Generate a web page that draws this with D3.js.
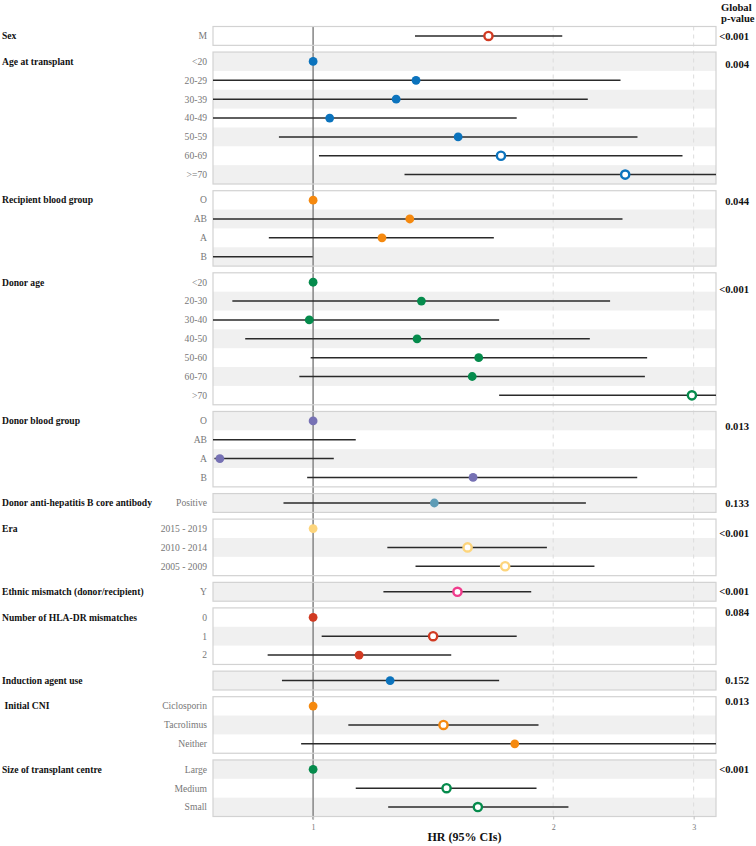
<!DOCTYPE html>
<html><head><meta charset="utf-8">
<script src="https://cdn.jsdelivr.net/npm/d3@7"></script>
<style>
body{margin:0;background:#fff}
svg{display:block}
text{font-family:"Liberation Serif","Times New Roman",serif}
</style>
</head><body>
<svg id="chart" width="756" height="846"></svg>
<script>
// ---------------- data ----------------
const groups = [
  "Sex", "Age at transplant", "Recipient blood group", "Donor age",
  "Donor blood group", "Donor anti-hepatitis B core antibody", "Era",
  "Ethnic mismatch (donor/recipient)", "Number of HLA-DR mismatches",
  "Induction agent use", " Initial CNI", "Size of transplant centre"
];
const levels = [
  ["M"],
  ["<20", "20-29", "30-39", "40-49", "50-59", "60-69", ">=70"],
  ["O", "AB", "A", "B"],
  ["<20", "20-30", "30-40", "40-50", "50-60", "60-70", ">70"],
  ["O", "AB", "A", "B"],
  ["Positive"],
  ["2015 - 2019", "2010 - 2014", "2005 - 2009"],
  ["Y"],
  ["0", "1", "2"],
  [""],
  ["Ciclosporin", "Tacrolimus", "Neither"],
  ["Large", "Medium", "Small"]
];
const hr = [
  [1.659],
  [1, 1.346, 1.271, 1.049, 1.520, 1.720, 2.462],
  [1, 1.322, 1.220, 0.55],
  [1, 1.367, 0.989, 1.350, 1.613, 1.583, 2.985],
  [1, 0.60, 0.764, 1.587],
  [1.419],
  [1, 1.562, 1.741],
  [1.517],
  [1, 1.414, 1.142],
  [1.249],
  [1, 1.457, 1.790],
  [1, 1.470, 1.609]
];
const lower = [
  [1.342],
  [null, 0.70, 0.65, 0.60, 0.906, 1.017, 1.302],
  [null, 0.65, 0.880, 0.30],
  [null, 0.792, 0.65, 0.822, 0.993, 0.961, 1.711],
  [null, 0.30, 0.752, 0.983],
  [0.918],
  [null, 1.239, 1.344],
  [1.225],
  [null, 1.025, 0.877],
  [0.914],
  [null, 1.107, 0.966],
  [null, 1.131, 1.242]
];
const upper = [
  [2.053],
  [null, 2.429, 2.210, 1.800, 2.551, 2.905, 3.60],
  [null, 2.443, 1.685, 0.999],
  [null, 2.357, 1.711, 2.223, 2.623, 2.606, 3.60],
  [null, 1.131, 1.0615, 2.549],
  [2.198],
  [null, 1.964, 2.253],
  [1.877],
  [null, 1.800, 1.490],
  [1.711],
  [null, 1.917, 3.60],
  [null, 1.906, 2.090]
];
const pValues = ["<0.001", "0.004", "0.044", "<0.001", "0.013", "0.133",
                 "<0.001", "<0.001", "0.084", "0.152", "0.013", "<0.001"];
const xTicks = [1, 2, 3];

// ---------------- styles / layout ----------------
const groupColors = ["#d13a22", "#0b73bd", "#f5890f", "#058b4c", "#7671b4",
                     "#5e9cb6", "#fdd57c", "#f03b8c", "#d13a22", "#0b73bd",
                     "#f5890f", "#058b4c"];
const pNudge = [0, 3, 1, 7, 5, 0, 5, 0, -5, 0, -5, 0];
const L = 213, R = 716, TOP = 26.5, BOTTOM = 816.5;
const GAP = 0.355; // gap between panels, in row units

const svg = d3.select("#chart");

const totalRows = d3.sum(levels, d => d.length);
const totalSlots = totalRows + GAP * (groups.length - 1);
const y = d3.scaleLinear().domain([0, totalSlots]).range([TOP, BOTTOM]);
const x = d3.scaleLog().domain([0.749, 3.2]).range([L, R]);

// flatten rows
const rows = [];
const panels = [];
let cum = 0;
groups.forEach((g, gi) => {
  const start = cum + gi * GAP;
  panels.push({g, gi, start, n: levels[gi].length});
  levels[gi].forEach((lab, li) => {
    rows.push({gi, li, idx: cum + li, slot: start + li, label: lab,
      est: hr[gi][li], lo: lower[gi][li], hi: upper[gi][li]});
  });
  cum += levels[gi].length;
});

svg.append("defs").append("clipPath").attr("id", "plotclip")
  .append("rect").attr("x", L).attr("y", 0).attr("width", R - L).attr("height", 846);

// panel backgrounds
svg.append("g").selectAll("rect").data(panels).join("rect")
  .attr("x", L).attr("width", R - L)
  .attr("y", d => y(d.start)).attr("height", d => y(d.start + d.n) - y(d.start))
  .attr("fill", "#fff");

// stripes
svg.append("g").selectAll("rect").data(rows.filter(r => r.idx % 2 === 1)).join("rect")
  .attr("x", L).attr("width", R - L)
  .attr("y", d => y(d.slot)).attr("height", d => y(d.slot + 1) - y(d.slot))
  .attr("fill", "#f0f0f0");

// dashed grid at ticks other than 1
svg.append("g").selectAll("line").data(xTicks.filter(t => t !== 1)).join("line")
  .attr("x1", d => x(d)).attr("x2", d => x(d))
  .attr("y1", TOP).attr("y2", BOTTOM)
  .attr("stroke", "#dcdcdc").attr("stroke-width", 1).attr("stroke-dasharray", "4,4");

// reference line at 1
svg.append("line")
  .attr("x1", x(1)).attr("x2", x(1)).attr("y1", TOP).attr("y2", BOTTOM + 3)
  .attr("stroke", "#8c8c8c").attr("stroke-width", 1.6);

// panel borders
svg.append("g").selectAll("rect").data(panels).join("rect")
  .attr("x", L).attr("width", R - L)
  .attr("y", d => y(d.start)).attr("height", d => y(d.start + d.n) - y(d.start))
  .attr("fill", "none").attr("stroke", "#d2d2d2").attr("stroke-width", 1.2);

const plot = svg.append("g").attr("clip-path", "url(#plotclip)");

// CI lines
plot.append("g").selectAll("line").data(rows.filter(r => r.lo != null)).join("line")
  .attr("x1", d => x(d.lo)).attr("x2", d => x(d.hi))
  .attr("y1", d => y(d.slot + 0.5)).attr("y2", d => y(d.slot + 0.5))
  .attr("stroke", "#2a2a2a").attr("stroke-width", 1.5);

// points
const isOpen = d => d.lo != null && d.lo > 1;
plot.append("g").selectAll("circle").data(rows).join("circle")
  .attr("cx", d => x(d.est)).attr("cy", d => y(d.slot + 0.5))
  .attr("r", d => isOpen(d) ? 4.1 : 4.4)
  .attr("fill", d => isOpen(d) ? "#fff" : groupColors[d.gi])
  .attr("stroke", d => isOpen(d) ? groupColors[d.gi] : "none")
  .attr("stroke-width", d => isOpen(d) ? 2.4 : 0);

// row labels
svg.append("g").selectAll("text").data(rows).join("text")
  .attr("x", 207).attr("y", d => y(d.slot + 0.5))
  .attr("dy", "0.35em").attr("text-anchor", "end")
  .attr("font-size", 9.6).attr("fill", "#777")
  .text(d => d.label);

// group labels
svg.append("g").selectAll("text").data(panels).join("text")
  .attr("x", 2).attr("y", d => y(d.start + 0.5))
  .attr("dy", "0.35em").attr("font-size", 9.6).attr("font-weight", "bold")
  .attr("fill", "#111").style("white-space", "pre")
  .text(d => d.g);

// p-values
svg.append("g").selectAll("text").data(panels).join("text")
  .attr("x", 749).attr("y", d => y(d.start + 0.5) + pNudge[d.gi])
  .attr("dy", "0.35em").attr("text-anchor", "end")
  .attr("font-size", 10.6).attr("font-weight", "bold").attr("fill", "#111")
  .text(d => pValues[d.gi]);

// header
svg.append("text").attr("x", 721).attr("y", 11)
  .attr("font-size", 10.6).attr("font-weight", "bold").attr("fill", "#111")
  .text("Global");
svg.append("text").attr("x", 721).attr("y", 22)
  .attr("font-size", 10.6).attr("font-weight", "bold").attr("fill", "#111")
  .text("p-value");

// x axis
const axis = d3.axisBottom(x).tickValues(xTicks).tickFormat(d3.format("d")).tickSize(3).tickPadding(5);
const ax = svg.append("g").attr("transform", `translate(0,${BOTTOM})`).call(axis);
ax.select(".domain").remove();
ax.selectAll(".tick line").attr("stroke", "#bbb");
ax.selectAll(".tick text").attr("font-size", 8).attr("fill", "#777")
  .attr("font-family", "'Liberation Serif','Times New Roman',serif");

svg.append("text").attr("x", (L + R) / 2).attr("y", 841)
  .attr("text-anchor", "middle").attr("font-size", 12).attr("font-weight", "bold")
  .attr("fill", "#111").text("HR (95% CIs)");
</script>
</body></html>
